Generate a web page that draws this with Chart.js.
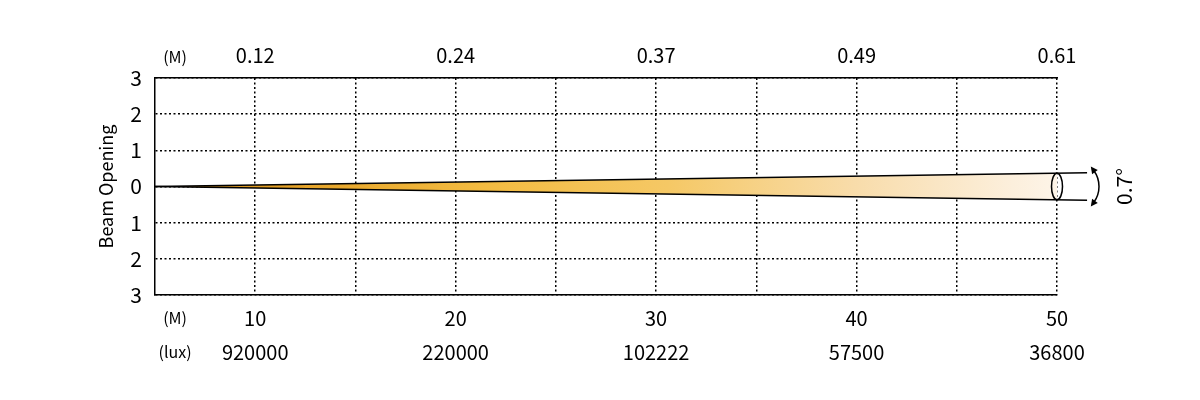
<!DOCTYPE html>
<html>
<head>
<meta charset="utf-8">
<script src="https://cdn.jsdelivr.net/npm/chart.js@4"></script>
<style>
  body { margin: 0; background: #fff; }
</style>
</head>
<body>
<canvas id="beamChart" width="1200" height="400"></canvas>
<script>
'use strict';

// distance (m) with the beam diameter above and the illuminance below
const distances = [10, 20, 30, 40, 50];
const diameters = ['0.12', '0.24', '0.37', '0.49', '0.61'];
const luxValues = ['920000', '220000', '102222', '57500', '36800'];
const midGrid = [15, 25, 35, 45];

const unitAt = 6;
const unitTop = '(M)';
const unitBottom = ['(M)', '(lux)'];

const beamX = [5, 51.5];
const beamUpper = [0, 0.38];
const beamLower = [0, -0.38];
const beamAngle = '0.7°';

const fontFamily = "'Noto Sans CJK SC', 'Noto Sans', sans-serif";


function beamFill(context) {
    const chart = context.chart;
    const area = chart.chartArea;
    if (!area) {
        return '#f4c04f';
    }
    const g = chart.ctx.createLinearGradient(area.left, 0, area.right + 30, 0);
    g.addColorStop(0, '#b97c14');
    g.addColorStop(0.12, '#e39f25');
    g.addColorStop(0.35, '#f3bb40');
    g.addColorStop(0.55, '#f5c865');
    g.addColorStop(0.75, '#f8dcaa');
    g.addColorStop(0.92, '#fcefdc');
    g.addColorStop(1, '#fef8f0');
    return g;
}

function isUnit(ctx) {
    return ctx.tick && ctx.tick.value === unitAt;
}

// ellipse at the 50 m mark, angle arrow and its label
const beamMarks = {
    id: 'beamMarks',
    afterDraw(chart) {
        const ctx = chart.ctx;
        const x = chart.scales.x;
        const y = chart.scales.y;
        const end = distances[distances.length - 1];
        const half = beamUpper[1] * (end - beamX[0]) / (beamX[1] - beamX[0]);
        const cx = x.getPixelForValue(end);
        const cy = y.getPixelForValue(0);
        const ry = cy - y.getPixelForValue(half);

        ctx.save();
        ctx.strokeStyle = '#000';
        ctx.fillStyle = '#000';
        ctx.lineWidth = 1.5;
        ctx.beginPath();
        ctx.ellipse(cx, cy, 5.5, ry, 0, 0, 2 * Math.PI);
        ctx.stroke();

        // curved double arrow
        const r = 27;
        const ox = cx + 42 - r;
        const a = Math.asin(16 / r);
        ctx.beginPath();
        ctx.arc(ox, cy, r, -a, a);
        ctx.stroke();
        const heads = [
            [-a, Math.sin(-a), -Math.cos(-a)],
            [a, -Math.sin(a), Math.cos(a)]
        ];
        heads.forEach(function (h) {
            const px = ox + r * Math.cos(h[0]);
            const py = cy + r * Math.sin(h[0]);
            const dx = h[1];
            const dy = h[2];
            ctx.beginPath();
            ctx.moveTo(px + dx * 5, py + dy * 5);
            ctx.lineTo(px - dx * 2 - dy * 3.5, py - dy * 2 + dx * 3.5);
            ctx.lineTo(px - dx * 2 + dy * 3.5, py - dy * 2 - dx * 3.5);
            ctx.closePath();
            ctx.fill();
        });

        ctx.translate(cx + 67, cy);
        ctx.rotate(-Math.PI / 2);
        ctx.font = '21px ' + fontFamily;
        ctx.textAlign = 'center';
        ctx.textBaseline = 'middle';
        ctx.fillText(beamAngle, 0, 0);
        ctx.restore();
    }
};


const data = {
    datasets: [{
        label: 'upper',
        data: beamX.map((v, i) => ({x: v, y: beamUpper[i]})),
        borderColor: '#000',
        borderWidth: 1.5,
        pointRadius: 0,
        fill: false,
        clip: false
    }, {
        label: 'lower',
        data: beamX.map((v, i) => ({x: v, y: beamLower[i]})),
        borderColor: '#000',
        borderWidth: 1.5,
        pointRadius: 0,
        backgroundColor: beamFill,
        fill: '-1',
        clip: false
    }]
};

const dots = [2, 2.5];

const config = {
    type: 'line',
    data: data,
    options: {
        responsive: false,
        animation: false,
        layout: {padding: {left: 91, right: 143, top: 0, bottom: 0}},
        plugins: {
            legend: {display: false},
            tooltip: {enabled: false}
        },
        scales: {
            x: {
                type: 'linear',
                position: 'bottom',
                min: 5,
                max: 50,
                z: 1,
                afterBuildTicks: function (scale) {
                    scale.ticks = [unitAt].concat(distances, midGrid)
                        .sort((a, b) => a - b)
                        .map(v => ({value: v}));
                },
                afterFit: function (scale) {
                    scale.height = 105;
                },
                grid: {
                    color: ctx => isUnit(ctx) ? 'rgba(0,0,0,0)' : '#000',
                    lineWidth: 1.5,
                    drawTicks: false,
                    borderDash: dots
                },
                border: {display: true, color: '#000', width: 1.5, dash: dots},
                ticks: {
                    autoSkip: false,
                    maxRotation: 0,
                    minRotation: 0,
                    padding: 6,
                    color: '#000',
                    font: ctx => ({family: fontFamily, size: isUnit(ctx) ? 16 : 20, lineHeight: '34px'}),
                    callback: function (value) {
                        if (value === unitAt) {
                            return unitBottom;
                        }
                        const i = distances.indexOf(value);
                        return i < 0 ? '' : [String(distances[i]), luxValues[i]];
                    }
                }
            },
            x2: {
                type: 'linear',
                position: 'top',
                min: 5,
                max: 50,
                afterBuildTicks: function (scale) {
                    scale.ticks = [unitAt].concat(distances).map(v => ({value: v}));
                },
                afterFit: function (scale) {
                    scale.height = 78;
                },
                grid: {drawOnChartArea: false, drawTicks: false},
                border: {display: true, color: '#000', width: 1.5},
                ticks: {
                    autoSkip: false,
                    maxRotation: 0,
                    minRotation: 0,
                    padding: 11,
                    color: '#000',
                    font: ctx => ({family: fontFamily, size: isUnit(ctx) ? 16 : 20}),
                    callback: function (value) {
                        if (value === unitAt) {
                            return unitTop;
                        }
                        const i = distances.indexOf(value);
                        return i < 0 ? '' : diameters[i];
                    }
                }
            },
            y: {
                min: -3,
                max: 3,
                z: 1,
                afterFit: function (scale) {
                    scale.width = 64;
                },
                grid: {color: '#000', lineWidth: 1.5, drawTicks: false, borderDash: dots},
                border: {display: true, color: '#000', width: 1.5, dash: dots},
                ticks: {
                    stepSize: 1,
                    padding: 13,
                    color: '#000',
                    font: {family: fontFamily, size: 21},
                    callback: v => Math.abs(v)
                },
                title: {
                    display: true,
                    text: 'Beam Opening',
                    color: '#000',
                    font: {family: fontFamily, size: 18}
                }
            }
        }
    },
    plugins: [beamMarks]
};

const beamChart = new Chart(
    document.getElementById('beamChart'),
    config
);
</script>
</body>
</html>
